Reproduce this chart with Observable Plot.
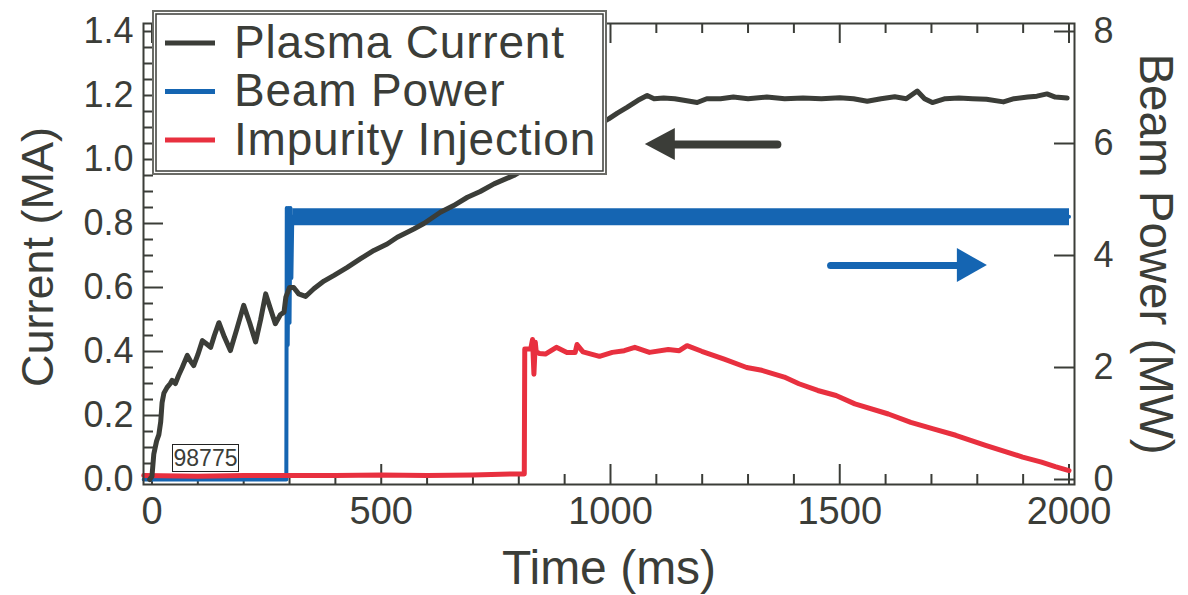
<!DOCTYPE html>
<html>
<head>
<meta charset="utf-8">
<script src="https://cdn.jsdelivr.net/npm/d3@7"></script>
<script src="https://cdn.jsdelivr.net/npm/@observablehq/plot@0.6"></script>
<style>
  body { margin: 0; background: #fff; }
  #wrap { position: relative; width: 1188px; height: 595px; font-family: "Liberation Sans", Arial, Helvetica, sans-serif; }
  #wrap > svg { position: absolute; left: 0; top: 0; }
</style>
</head>
<body>
<div id="wrap"></div>
<script>
// ---------- data ----------
const seriesNames = ["Plasma Current", "Beam Power", "Impurity Injection"];
const shotLabel = "98775";

// Plasma current (MA) vs time (ms)
const currentTime = [-5, 0, 4, 10, 15, 19, 22, 26, 33, 40, 44, 51, 58, 66, 77, 84, 91, 100, 110, 118, 128, 136, 146, 158, 171, 185, 200, 213, 226, 237, 248, 258, 269, 280, 288, 292, 300, 309, 320, 335, 353, 375, 397, 426, 455, 484, 513, 535, 571, 593, 629, 658, 688, 716, 746, 789, 830, 870, 910, 950, 996, 1015, 1036, 1060, 1080, 1095, 1116, 1140, 1160, 1189, 1210, 1240, 1268, 1300, 1341, 1380, 1420, 1460, 1500, 1530, 1560, 1590, 1620, 1645, 1669, 1685, 1702, 1730, 1760, 1790, 1820, 1857, 1880, 1910, 1930, 1952, 1970, 1996];
const currentMA   = [0.0, 0.01, 0.08, 0.12, 0.14, 0.18, 0.24, 0.27, 0.288, 0.30, 0.31, 0.30, 0.325, 0.35, 0.388, 0.37, 0.356, 0.39, 0.434, 0.425, 0.413, 0.45, 0.49, 0.445, 0.403, 0.47, 0.544, 0.49, 0.43, 0.50, 0.58, 0.535, 0.487, 0.515, 0.523, 0.57, 0.60, 0.60, 0.58, 0.572, 0.596, 0.62, 0.638, 0.663, 0.69, 0.716, 0.736, 0.757, 0.783, 0.80, 0.835, 0.856, 0.882, 0.90, 0.924, 0.95, 0.985, 1.02, 1.055, 1.09, 1.127, 1.145, 1.163, 1.185, 1.20, 1.19, 1.192, 1.19, 1.185, 1.178, 1.19, 1.19, 1.195, 1.19, 1.195, 1.19, 1.192, 1.19, 1.193, 1.19, 1.182, 1.19, 1.196, 1.19, 1.214, 1.19, 1.178, 1.19, 1.192, 1.19, 1.188, 1.18, 1.19, 1.195, 1.198, 1.205, 1.195, 1.192];

// Beam power (MW) vs time (ms)
const beamTime = [-18, 293, 294, 296, 298, 300, 302, 304, 306, 2000];
const beamMW   = [0, 0, 4.85, 2.4, 4.85, 2.8, 4.85, 3.6, 4.69, 4.69];

// Impurity injection (right-axis units) vs time (ms)
const impTime = [-18, 100, 200, 300, 400, 500, 600, 700, 790, 812, 813, 826, 830, 833, 836, 838, 845, 858, 882, 905, 923, 927, 940, 976, 1004, 1030, 1053, 1085, 1126, 1150, 1167, 1199, 1248, 1297, 1330, 1379, 1411, 1452, 1492, 1533, 1606, 1655, 1704, 1753, 1818, 1899, 1940, 1970, 2000];
const impMW   = [0.07, 0.06, 0.07, 0.07, 0.07, 0.08, 0.07, 0.08, 0.1, 0.1, 2.33, 2.33, 2.5, 1.88, 2.45, 2.28, 2.25, 2.24, 2.36, 2.27, 2.27, 2.41, 2.28, 2.20, 2.27, 2.30, 2.36, 2.27, 2.32, 2.30, 2.39, 2.29, 2.15, 2.0, 1.95, 1.83, 1.71, 1.59, 1.50, 1.35, 1.17, 1.02, 0.905, 0.79, 0.61, 0.40, 0.31, 0.23, 0.16];

// axes
const xTicksMajor = [0, 500, 1000, 1500, 2000];
const xTicksMinor = [100, 200, 300, 400, 600, 700, 800, 900, 1100, 1200, 1300, 1400, 1600, 1700, 1800, 1900];
const yTicksMA = [0, 0.2, 0.4, 0.6, 0.8, 1.0, 1.2, 1.4];
const yTicksMAminor = [0.05, 0.1, 0.15, 0.25, 0.3, 0.35, 0.45, 0.5, 0.55, 0.65, 0.7, 0.75, 0.85, 0.9, 0.95, 1.05, 1.1, 1.15, 1.25, 1.3, 1.35];
const yTicksMW = [0, 2, 4, 6, 8];
const xLabel = "Time (ms)";
const yLabelLeft = "Current (MA)";
const yLabelRight = "Beam Power (MW)";

// direction arrows (annotation): tail time, tip time, level
const arrowCurrent = {from: 1364, to: 1076, level: 1.047};   // MA, points to left axis
const arrowBeam = {from: 1480, to: 1822, level: 3.82};       // MW, points to right axis

// ---------- styling ----------
const ink = "#3b3d38";
const colors = ["#3b3d38", "#1565b2", "#e8303f"];
const W = 1188, H = 595;
const mL = 143, mR = 114, mT = 23, mB = 111;
const plotW = W - mL - mR, plotH = H - mT - mB;
const k = 1.4 / 8; // MW -> MA on the shared vertical scale

const cur = currentTime.map((t, i) => ({t, v: currentMA[i]}));
const beam = beamTime.map((t, i) => ({t, v: beamMW[i] * k}));
const band = beam.filter(d => d.t >= 306);
const imp = impTime.map((t, i) => ({t, v: impMW[i] * k}));

const xDomain = [-18.5, 2012];
const yDomain = [-0.0156, 1.425];
const pxPerMs = plotW / (xDomain[1] - xDomain[0]);
const pxPerMA = plotH / (yDomain[1] - yDomain[0]);

function arrowHead(a, scale, headLenPx, halfPx) {
  const dir = Math.sign(a.to - a.from);
  const base = a.to - dir * headLenPx / pxPerMs;
  const c = a.level * scale, h = halfPx / pxPerMA;
  return [{x: a.to, y1: c, y2: c}, {x: base, y1: c - h, y2: c + h}];
}
function arrowShaft(a, scale, headLenPx) {
  const dir = Math.sign(a.to - a.from);
  const base = a.to - dir * (headLenPx - 2) / pxPerMs;
  return [{x: a.from, y: a.level * scale}, {x: base, y: a.level * scale}];
}

const chart = Plot.plot({
  width: W, height: H,
  marginLeft: mL, marginRight: mR, marginTop: mT, marginBottom: mB,
  x: {domain: xDomain, axis: null},
  y: {domain: yDomain, axis: null},
  style: {fontFamily: '"Liberation Sans", Arial, Helvetica, sans-serif', color: ink, background: "transparent", overflow: "visible"},
  marks: [
    // ticks (inward)
    Plot.ruleX(xTicksMajor, {x: d => d, insetTop: plotH - 20, stroke: ink, strokeWidth: 2}),
    Plot.ruleX(xTicksMinor, {x: d => d, insetTop: plotH - 10, stroke: ink, strokeWidth: 2}),
    Plot.ruleX(xTicksMajor, {x: d => d, insetBottom: plotH - 20, stroke: ink, strokeWidth: 2}),
    Plot.ruleX(xTicksMinor, {x: d => d, insetBottom: plotH - 10, stroke: ink, strokeWidth: 2}),
    Plot.ruleY(yTicksMA, {y: d => d, insetRight: plotW - 20, stroke: ink, strokeWidth: 2}),
    Plot.ruleY(yTicksMAminor, {y: d => d, insetRight: plotW - 10, stroke: ink, strokeWidth: 2}),
    Plot.ruleY(yTicksMW, {y: d => d * k, insetLeft: plotW - 20, stroke: ink, strokeWidth: 2}),
    // tick labels
    Plot.text(xTicksMajor, {x: d => d, frameAnchor: "bottom", dy: 13, lineAnchor: "top", textAnchor: "middle", text: d => `${d}`, fontSize: 38, fill: ink}),
    Plot.text(yTicksMA, {y: d => d, frameAnchor: "left", dx: -10, textAnchor: "end", lineAnchor: "middle", text: d => d.toFixed(1), fontSize: 36, fill: ink}),
    Plot.text(yTicksMW, {y: d => d * k, frameAnchor: "right", dx: 19, textAnchor: "start", lineAnchor: "middle", text: d => `${d}`, fontSize: 36, fill: ink}),
    // axis titles
    Plot.text([xLabel], {frameAnchor: "bottom", dy: 84, textAnchor: "middle", lineAnchor: "middle", text: d => d, fontSize: 48, fill: ink}),
    Plot.text([yLabelLeft], {frameAnchor: "left", dx: -105, dy: 3, rotate: -90, textAnchor: "middle", lineAnchor: "middle", text: d => d, fontSize: 45, fill: ink}),
    Plot.text([yLabelRight], {frameAnchor: "right", dx: 81, rotate: 90, textAnchor: "middle", lineAnchor: "middle", text: d => d, fontSize: 47.5, fill: ink}),
    // series
    Plot.line(beam, {x: "t", y: "v", stroke: colors[1], strokeWidth: 4}),
    Plot.line(band, {x: "t", y: "v", stroke: colors[1], strokeWidth: 17, strokeLinecap: "butt"}),
    Plot.line(imp, {x: "t", y: "v", stroke: colors[2], strokeWidth: 5}),
    Plot.line(cur, {x: "t", y: "v", stroke: colors[0], strokeWidth: 5}),
    // arrows
    Plot.line(arrowShaft(arrowCurrent, 1, 30), {x: "x", y: "y", stroke: colors[0], strokeWidth: 8}),
    Plot.areaY(arrowHead(arrowCurrent, 1, 30, 16), {x: "x", y1: "y1", y2: "y2", fill: colors[0]}),
    Plot.line(arrowShaft(arrowBeam, k, 30), {x: "x", y: "y", stroke: colors[1], strokeWidth: 7}),
    Plot.areaY(arrowHead(arrowBeam, k, 30, 17), {x: "x", y1: "y1", y2: "y2", fill: colors[1]}),
    Plot.frame({stroke: ink, strokeWidth: 2})
  ]
});
document.getElementById("wrap").appendChild(chart);

// ---------- overlay: legend and shot number ----------
const ov = d3.select("#wrap").append("svg")
  .attr("width", W).attr("height", H)
  .style("font-family", '"Liberation Sans", Arial, Helvetica, sans-serif');

const lg = ov.append("g");
lg.append("rect").attr("x", 153).attr("y", 11).attr("width", 453).attr("height", 163)
  .attr("fill", "#fff").attr("stroke", "#6a6b66").attr("stroke-width", 2);
lg.append("rect").attr("x", 156).attr("y", 14).attr("width", 447).attr("height", 157)
  .attr("fill", "none").attr("stroke", ink).attr("stroke-width", 1.5);
const rowY = [43, 91.5, 140];
seriesNames.forEach((name, i) => {
  lg.append("line").attr("x1", 165).attr("x2", 215).attr("y1", rowY[i]).attr("y2", rowY[i])
    .attr("stroke", colors[i]).attr("stroke-width", 5);
  lg.append("text").attr("x", 234).attr("y", rowY[i] + 14.5).attr("font-size", 46)
    .attr("letter-spacing", 0.8).attr("fill", ink).text(name);
});

const sb = ov.append("g");
sb.append("rect").attr("x", 172.5).attr("y", 444.5).attr("width", 66).attr("height", 27)
  .attr("fill", "#fff").attr("stroke", "#222").attr("stroke-width", 1);
sb.append("text").attr("x", 205.5).attr("y", 466).attr("text-anchor", "middle").attr("font-size", 23)
  .attr("fill", ink).text(shotLabel);
</script>
</body>
</html>
